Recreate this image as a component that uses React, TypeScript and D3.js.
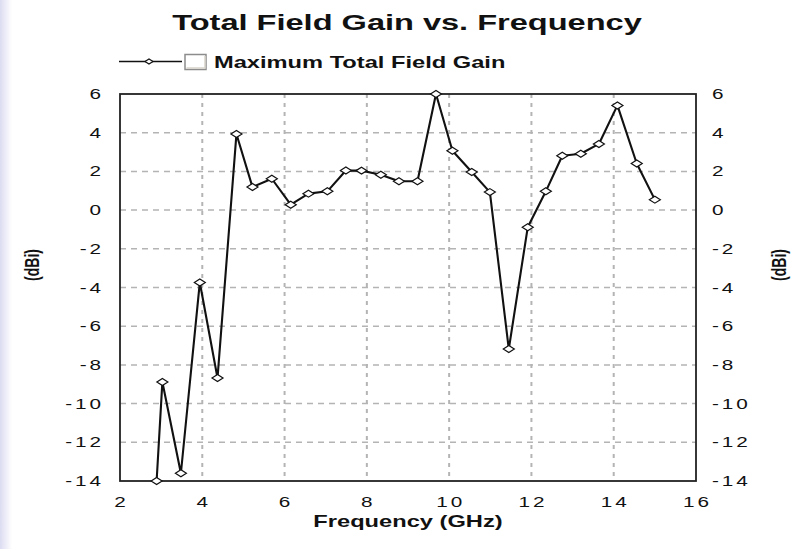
import React from 'react'
import * as d3 from 'd3'

// values
const freqGHz = [2.89, 3.03, 3.48, 3.94, 4.37, 4.83, 5.22, 5.69, 6.15, 6.58, 7.04, 7.49, 7.87, 8.34, 8.78, 9.23, 9.68, 10.08, 10.55, 10.99, 11.45, 11.91, 12.35, 12.75, 13.2, 13.64, 14.09, 14.56, 15.0]
const gainDBi = [-14.0, -8.88, -13.6, -3.74, -8.68, 3.93, 1.19, 1.62, 0.28, 0.85, 0.97, 2.05, 2.04, 1.83, 1.49, 1.49, 6.0, 3.07, 1.97, 0.93, -7.18, -0.89, 0.97, 2.81, 2.91, 3.42, 5.41, 2.41, 0.54]
const xTicks = [2, 4, 6, 8, 10, 12, 14, 16]
const yTicks = [-14, -12, -10, -8, -6, -4, -2, 0, 2, 4, 6]

const title = 'Total Field Gain vs. Frequency'
const seriesName = 'Maximum Total Field Gain'
const xLabel = 'Frequency (GHz)'
const yLabel = '(dBi)'

const W = 810
const H = 549
const margin = { top: 94, right: 114, bottom: 68, left: 120 }
const FONT = '"Liberation Sans", Arial, sans-serif'
const SX = 1.48 // the picture is stretched sideways

const App = () => {
  const x = d3.scaleLinear().domain([2, 16]).range([margin.left, W - margin.right])
  const y = d3.scaleLinear().domain([-14, 6]).range([H - margin.bottom, margin.top])

  const pts = freqGHz.map((f, i) => [f, gainDBi[i]] as [number, number])
  const line = d3.line<[number, number]>()
    .x(d => x(d[0]))
    .y(d => y(d[1]))

  const diamond = 'M-5.5,0L0,-3.5L5.5,0L0,3.5Z'

  const stretched = (tx: number, ty: number, extra = '') =>
    `translate(${tx},${ty}) scale(${SX},1)${extra}`

  return (
    <svg width={W} height={H} style={{ position: 'absolute', left: 0, top: 0, display: 'block' }}>
      <defs>
        <linearGradient id="edge" x1="0" x2="1" y1="0" y2="0">
          <stop offset="0" stopColor="#dcdcf2" />
          <stop offset="1" stopColor="#ffffff" />
        </linearGradient>
      </defs>
      <rect width={W} height={H} fill="#fff" />
      <rect x={0} y={0} width={12} height={H} fill="url(#edge)" />

      {/* title */}
      <text transform={stretched(407, 29.5)} textAnchor="middle" fontFamily={FONT}
        fontWeight="bold" fontSize={22} fill="#111">{title}</text>

      {/* legend */}
      <g>
        <line x1={119} x2={182} y1={61.5} y2={61.5} stroke="#111" strokeWidth={1.4} />
        <path d="M-4,0L0,-2.5L4,0L0,2.5Z" transform="translate(149,61.5)" fill="#fff" stroke="#111" strokeWidth={1.2} />
        <rect x={185} y={54.5} width={21} height={15} fill="#fff" stroke="#8c8c8c" strokeWidth={1.5} />
        <path d="M186.5,68L205,68L205,56" fill="none" stroke="#d8d4cc" strokeWidth={1.5} />
        <text transform={stretched(214, 67.5)} fontFamily={FONT} fontWeight="bold" fontSize={16} fill="#111">{seriesName}</text>
      </g>

      {/* grid */}
      {yTicks.slice(1, -1).map(t => (
        <line key={'gy' + t} x1={margin.left} x2={W - margin.right} y1={y(t)} y2={y(t)}
          stroke="#b4b4b4" strokeWidth={1.5} strokeDasharray="6,5" />
      ))}
      {xTicks.slice(1, -1).map(t => (
        <line key={'gx' + t} x1={x(t)} x2={x(t)} y1={margin.top} y2={H - margin.bottom}
          stroke="#b4b4b4" strokeWidth={2} strokeDasharray="4,5" />
      ))}

      {/* frame */}
      <rect x={margin.left} y={margin.top} width={W - margin.left - margin.right}
        height={H - margin.top - margin.bottom} fill="none" stroke="#222" strokeWidth={1.8} />

      {/* tick labels */}
      {yTicks.map(t => (
        <text key={'ly' + t} transform={stretched(104, y(t) + 5)} textAnchor="end"
          fontFamily={FONT} fontSize={14} letterSpacing={2} fill="#111">{t}</text>
      ))}
      {yTicks.map(t => (
        <text key={'ry' + t} transform={stretched(712, y(t) + 5)} textAnchor="start"
          fontFamily={FONT} fontSize={14} letterSpacing={2} fill="#111">{t}</text>
      ))}
      {xTicks.map(t => (
        <text key={'lx' + t} transform={stretched(x(t) + 1.5, 507)} textAnchor="middle"
          fontFamily={FONT} fontSize={14} letterSpacing={2} fill="#111">{t}</text>
      ))}

      {/* axis titles */}
      <text transform={stretched(408, 527)} textAnchor="middle" fontFamily={FONT}
        fontWeight="bold" fontSize={16} fill="#111">{xLabel}</text>
      <text transform={stretched(39, 265, ' rotate(-90)')} textAnchor="middle" fontFamily={FONT}
        fontWeight="bold" fontSize={14} fill="#111">{yLabel}</text>
      <text transform={stretched(786, 265, ' rotate(-90)')} textAnchor="middle" fontFamily={FONT}
        fontWeight="bold" fontSize={14} fill="#111">{yLabel}</text>

      {/* series */}
      <path d={line(pts) ?? ''} fill="none" stroke="#111" strokeWidth={2.1} strokeLinejoin="round" />
      {pts.map((d, i) => (
        <path key={'m' + i} d={diamond} transform={`translate(${x(d[0])},${y(d[1])})`}
          fill="#fff" stroke="#111" strokeWidth={1.2} />
      ))}
    </svg>
  )
}

export default App
